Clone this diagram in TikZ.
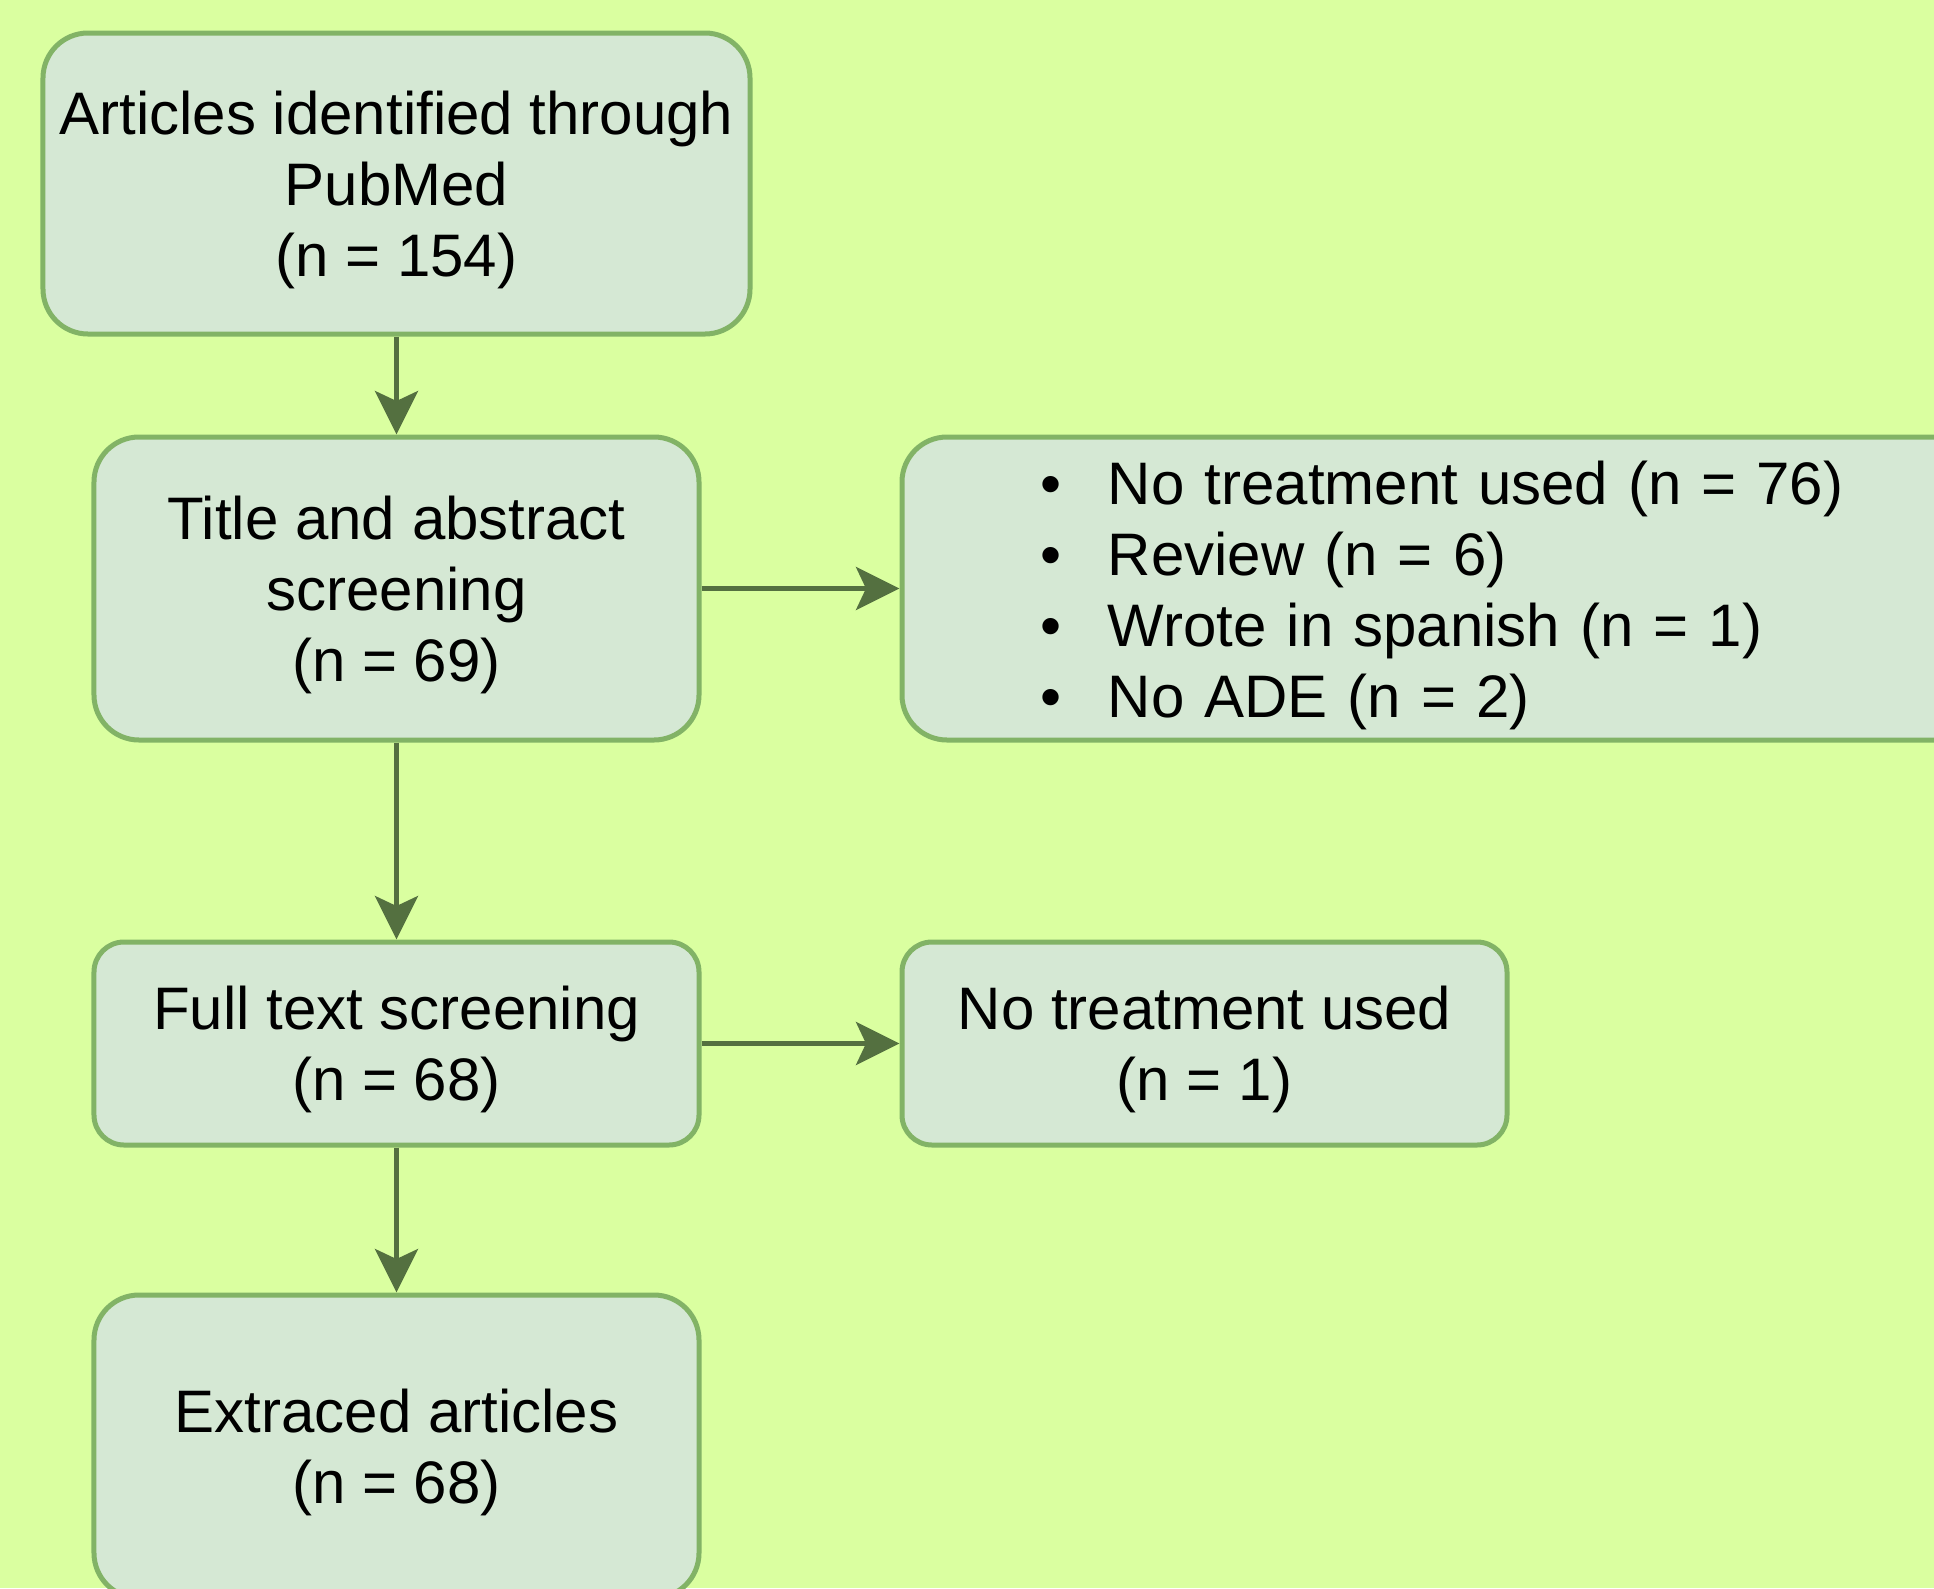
\documentclass[tikz,border=0pt]{standalone}
\usepackage{fontspec}
\setmainfont{Liberation Sans}
\usetikzlibrary{arrows.meta}
\definecolor{fc_bg}{RGB}{218, 255, 160}
\definecolor{fc_fill}{RGB}{213, 232, 212}
\definecolor{fc_line}{RGB}{130, 179, 102}
\definecolor{fc_arrow}{RGB}{84, 112, 64}
\tikzstyle{tb}=[rectangle,rounded corners=9pt,fill=fc_fill,draw=fc_line,
  line width=1pt,inner sep=0pt,minimum width=121pt,minimum height=60.6pt,
  align=center,text depth=0pt,font=\fontsize{12pt}{14.2pt}\selectfont]
\tikzstyle{sb}=[tb,rounded corners=6pt,minimum height=40.6pt]
\tikzstyle{lb}=[tb,align=left,inner xsep=27.6pt,text width=166.4pt,text depth=42.3pt]
\tikzstyle{ar}=[draw=fc_arrow,line width=0.9pt,
  -{Stealth[length=8.7pt,width=8.6pt,inset=2pt,fill=fc_arrow]}]

\begin{document}
\begin{tikzpicture}[x=0.2pt,y=-0.2pt]
            \useasboundingbox (0, 0) rectangle (1934, 1588);
            \fill [fc_bg] (0, 0) rectangle (1934, 1588);
            \node [style=tb,minimum width=141.4pt,minimum height=60.2pt] (0) at (396.5, 183.5) {Articles identified through\\PubMed\\(n = 154)};
            \node [style=tb] (1) at (396.5, 588.5) {Title and abstract\\screening\\(n = 69)};
            \node [style=lb] (2) at (1456, 588.5) {\makebox[13.6pt][l]{\textbullet}No treatment used (n = 76)\\
              \makebox[13.6pt][l]{\textbullet}Review (n = 6)\\
              \makebox[13.6pt][l]{\textbullet}Wrote in spanish (n = 1)\\
              \makebox[13.6pt][l]{\textbullet}No ADE (n = 2)};
            \node [style=sb] (3) at (396.5, 1043.5) {Full text screening\\(n = 68)};
            \node [style=sb] (4) at (1204.5, 1043.5) {No treatment used\\(n = 1)};
            \node [style=tb] (5) at (396.5, 1446.5) {Extraced articles\\(n = 68)};
            \draw [style=ar] (0) to (1);
            \draw [style=ar] (1) to (2);
            \draw [style=ar] (1) to (3);
            \draw [style=ar] (3) to (4);
            \draw [style=ar] (3) to (5);
    \end{tikzpicture}
\end{document}
